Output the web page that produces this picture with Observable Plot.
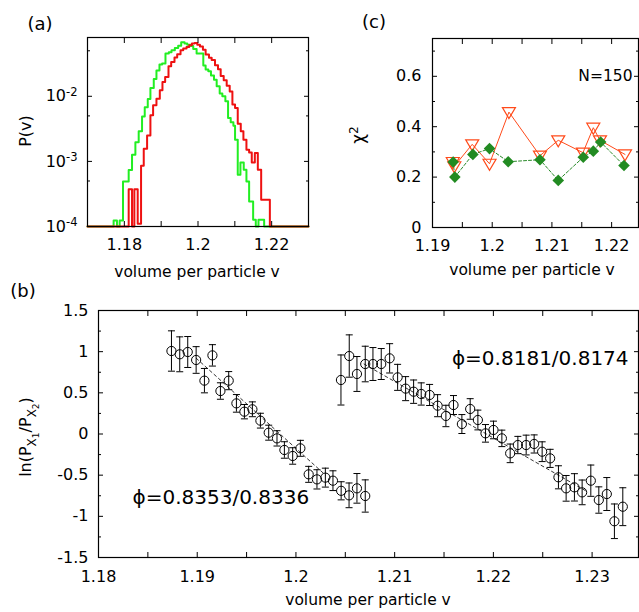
<!DOCTYPE html>
<html><head><meta charset="utf-8">
<script src="https://cdn.jsdelivr.net/npm/d3@7"></script>
<script src="https://cdn.jsdelivr.net/npm/@observablehq/plot@0.6"></script>
<style>
body{margin:0;background:#fff;}
#fig{position:relative;width:639px;height:612px;overflow:hidden;background:#fff;font-family:"DejaVu Sans",sans-serif;}
#fig svg{position:absolute;overflow:visible;}
</style></head><body><div id="fig"></div>
<script>
// ---------- panel (a): histograms P(v) ----------
const aGreenV = [1.17, 1.17709, 1.1780, 1.17873, 1.17964, 1.18118, 1.18209, 1.1830, 1.1839, 1.18481, 1.18554, 1.18636, 1.18708, 1.18799, 1.18872, 1.18954, 1.19026, 1.19117, 1.19208, 1.19281, 1.19371, 1.19462, 1.19544, 1.19635, 1.19708, 1.19798, 1.19871, 1.19962, 1.20053, 1.20144, 1.20207, 1.2028, 1.20352, 1.20434, 1.20507, 1.20589, 1.20661, 1.20743, 1.20816, 1.20888, 1.20961, 1.21006, 1.21079, 1.21152, 1.21242, 1.21315, 1.21388, 1.21497, 1.21569, 1.21642, 1.21796, 1.23];
const aGreenP = [1e-4, 1.24e-4, 1e-4, 1.24e-4, 4.9e-4, 7.4e-4, 1.27e-3, 1.96e-3, 2.9e-3, 4.9e-3, 6.8e-3, 9.1e-3, 0.0134, 0.0185, 0.0248, 0.0307, 0.0318, 0.0454, 0.0475, 0.051, 0.0554, 0.060, 0.0676, 0.0645, 0.062, 0.059, 0.0535, 0.0454, 0.0454, 0.0296, 0.0257, 0.0243, 0.0208, 0.018, 0.01425, 0.011, 0.01, 0.00838, 0.00465, 0.00398, 0.00354, 0.00215, 6.24e-4, 9.66e-4, 7.45e-4, 4.92e-4, 2.43e-4, 1.27e-4, 1e-4, 1.27e-4, 1e-4, 1e-4];
const aRedV = [1.17, 1.18118, 1.18209, 1.18272, 1.18363, 1.18454, 1.18527, 1.18618, 1.18708, 1.18781, 1.18872, 1.18963, 1.19035, 1.19108, 1.19199, 1.19272, 1.19362, 1.19435, 1.19526, 1.19599, 1.19689, 1.19762, 1.19835, 1.19907, 1.1998, 1.20053, 1.20134, 1.20207, 1.20298, 1.20371, 1.20461, 1.20543, 1.20616, 1.20698, 1.20779, 1.20861, 1.20934, 1.21006, 1.21079, 1.21161, 1.21233, 1.21315, 1.21388, 1.2146, 1.21543, 1.21624, 1.21715, 1.21951, 1.23];
const aRedP = [1e-4, 3.75e-4, 1e-4, 3.75e-4, 1.1e-4, 8.6e-4, 1.57e-3, 2.51e-3, 5.1e-3, 7.3e-3, 9.2e-3, 0.0124, 0.0166, 0.0198, 0.0289, 0.0337, 0.0393, 0.0443, 0.051, 0.0541, 0.0574, 0.0609, 0.0646, 0.0661, 0.062, 0.058, 0.052, 0.044, 0.039, 0.036, 0.030, 0.026, 0.0205, 0.0176, 0.0145, 0.0118, 7.45e-3, 6.6e-3, 3.8e-3, 2.9e-3, 2.15e-3, 1.51e-3, 1.37e-3, 9.66e-4, 1.34e-3, 7.45e-4, 2.57e-4, 1e-4, 1e-4];
const aXTicks = [1.17, 1.18, 1.19, 1.2, 1.21, 1.22, 1.23];
const aXLabels = [1.18, 1.2, 1.22];
const aYMajor = [1e-4, 1e-3, 1e-2];
const aYMinor = [5e-4, 5e-3, 5e-2];

// ---------- panel (b): ln(P_X1/P_X2) ----------
const b1V = [1.18739, 1.18823, 1.18904, 1.18989, 1.19073, 1.19154, 1.19235, 1.19319, 1.19397, 1.19478, 1.19559, 1.1964, 1.19724, 1.19808, 1.19883, 1.19967, 1.20045, 1.20129, 1.20213, 1.20298, 1.20375, 1.20458, 1.20538, 1.20618, 1.20702];
const b1Y = [1.008, 0.968, 0.996, 0.899, 0.648, 0.955, 0.522, 0.648, 0.372, 0.271, 0.30, 0.162, 0.016, -0.053, -0.194, -0.267, -0.174, -0.49, -0.551, -0.53, -0.567, -0.69, -0.745, -0.66, -0.753];
const b1E = [0.245, 0.212, 0.188, 0.162, 0.148, 0.13, 0.10, 0.11, 0.107, 0.087, 0.09, 0.09, 0.091, 0.093, 0.10, 0.10, 0.097, 0.097, 0.117, 0.115, 0.12, 0.11, 0.15, 0.18, 0.196];
const b2V = [1.20456, 1.2054, 1.20618, 1.20702, 1.2078, 1.20864, 1.20949, 1.2103, 1.21111, 1.21192, 1.21269, 1.21354, 1.21435, 1.21519, 1.21596, 1.21681, 1.21765, 1.21843, 1.2192, 1.22001, 1.22086, 1.2217, 1.22248, 1.22332, 1.22413, 1.22494, 1.22575, 1.22659, 1.22737, 1.22821, 1.22899, 1.22987, 1.23068, 1.23149, 1.23226, 1.23311];
const b2Y = [0.656, 0.947, 0.729, 0.85, 0.85, 0.85, 0.919, 0.688, 0.551, 0.514, 0.486, 0.474, 0.344, 0.219, 0.352, 0.121, 0.304, 0.17, 0.008, 0.049, -0.053, -0.235, -0.134, -0.134, -0.121, -0.215, -0.296, -0.526, -0.66, -0.648, -0.709, -0.567, -0.802, -0.729, -1.06, -0.883];
const b2E = [0.304, 0.257, 0.212, 0.216, 0.2, 0.188, 0.178, 0.158, 0.146, 0.142, 0.135, 0.128, 0.134, 0.13, 0.115, 0.115, 0.125, 0.12, 0.107, 0.107, 0.10, 0.113, 0.105, 0.12, 0.11, 0.12, 0.11, 0.14, 0.156, 0.166, 0.15, 0.19, 0.16, 0.2, 0.21, 0.23];
const fit1V = [1.1899, 1.2030];
const fit1Y = [0.92, -0.50];
const fit2V = [1.2069, 1.2295];
const fit2Y = [0.85, -0.70];
const bNotes = ["ϕ=0.8353/0.8336", "ϕ=0.8181/0.8174"];
const bNoteV = [1.18344, 1.2158];
const bNoteY = [-0.777, 0.919];
const bXTicks = [1.18, 1.185, 1.19, 1.195, 1.2, 1.205, 1.21, 1.215, 1.22, 1.225, 1.23];
const bXLabels = [1.18, 1.19, 1.2, 1.21, 1.22, 1.23];
const bYMajor = [-1.5, -1, -0.5, 0, 0.5, 1, 1.5];
const bYMinor = [-1.25, -0.75, -0.25, 0.25, 0.75, 1.25];

// ---------- panel (c): chi^2 ----------
const cGreenV = [1.19346, 1.19374, 1.19676, 1.19955, 1.20268, 1.2080, 1.21106, 1.21525, 1.21693, 1.21816, 1.22207];
const cGreenY = [0.26, 0.20, 0.29, 0.313, 0.261, 0.269, 0.187, 0.279, 0.303, 0.339, 0.246];
const cOrangeV = [1.19340, 1.19365, 1.19665, 1.19955, 1.2028, 1.2080, 1.21106, 1.2152, 1.21693, 1.21805, 1.22224];
const cOrangeY = [0.26, 0.243, 0.33, 0.253, 0.458, 0.285, 0.346, 0.297, 0.396, 0.346, 0.29];
const cNote = "N=150";
const cNoteV = 1.2235, cNoteY = 0.6;
const cXTicks = [1.19, 1.195, 1.2, 1.205, 1.21, 1.215, 1.22];
const cXLabels = [1.19, 1.2, 1.21, 1.22];
const cYMajor = [0, 0.2, 0.4, 0.6];
const cYMinor = [0.1, 0.3, 0.5, 0.7];

// ---------- helpers ----------
const FONT = "DejaVu Sans";
const baseStyle = {fontFamily: FONT, fontSize: "16px", background: "transparent", overflow: "visible", color: "#000"};
const str = d => String(d);
function tickMarks(axis, anchor, values, size) {
  const f = axis === "x" ? Plot.axisX : Plot.axisY;
  return f(values, {anchor, tickSize: -size, fill: "none", label: null, stroke: "#000", strokeWidth: 1});
}
function labelMarks(axis, anchor, values, pad, fmt, fontSize = 16) {
  const f = axis === "x" ? Plot.axisX : Plot.axisY;
  return f(values, {anchor, tickSize: 0, tickPadding: pad, tickFormat: fmt, label: null, fontSize, fill: "#000"});
}
function place(svg, left, top) {
  svg.style.position = "absolute";
  svg.style.left = left + "px";
  svg.style.top = top + "px";
  document.getElementById("fig").appendChild(svg);
  return d3.select(svg);
}
function addText(sel, x, y, txt, size, rotate = 0) {
  return sel.append("text")
    .attr("transform", `translate(${x},${y})` + (rotate ? ` rotate(${rotate})` : ""))
    .attr("text-anchor", "middle").attr("dy", "0.35em")
    .attr("font-family", FONT).attr("font-size", size).attr("fill", "#000")
    .text(txt);
}

// ---------- panel (a) ----------
const green = aGreenV.map((v, i) => ({v, p: aGreenP[i]}));
const red = aRedV.map((v, i) => ({v, p: aRedP[i]}));
const plotA = Plot.plot({
  width: 320, height: 260, marginLeft: 87, marginRight: 12, marginTop: 37, marginBottom: 34,
  style: baseStyle,
  x: {domain: [1.17, 1.23]},
  y: {type: "log", domain: [1e-4, 0.08]},
  marks: [
    Plot.line(green, {x: "v", y: "p", curve: "step-after", stroke: "#22ee22", strokeWidth: 2}),
    Plot.line(red, {x: "v", y: "p", curve: "step-after", stroke: "#ee1111", strokeWidth: 2}),
    Plot.frame({stroke: "#000", strokeWidth: 1.2}),
    tickMarks("x", "bottom", aXTicks, 5),
    tickMarks("x", "top", aXTicks, 5),
    tickMarks("y", "left", aYMajor, 5),
    tickMarks("y", "right", aYMajor, 5),
    tickMarks("y", "left", aYMinor, 3),
    tickMarks("y", "right", aYMinor, 3),
    labelMarks("x", "bottom", aXLabels, 12, str),
    labelMarks("y", "left", aYMajor, 10, d => "10^" + Math.round(Math.log10(d)))
  ]
});
const sA = place(plotA, 0, 0);
sA.selectAll("text").each(function () {
  const m = /^10\^(-?\d+)$/.exec(this.textContent);
  if (m) {
    this.textContent = "10";
    d3.select(this).append("tspan").attr("dy", "-0.45em").attr("font-size", "0.72em").text(m[1]);
  }
});
addText(sA, 40, 24, "(a)", 18);
addText(sA, 25, 131, "P(v)", 16, -90);
addText(sA, 197, 272, "volume per particle v", 15.5);

// ---------- panel (c) ----------
const cGreen = cGreenV.map((v, i) => ({v, y: cGreenY[i]}));
const cOrange = cOrangeV.map((v, i) => ({v, y: cOrangeY[i]}));
const triDown = {draw(ctx) { ctx.moveTo(-6.5, -4.5); ctx.lineTo(6.5, -4.5); ctx.lineTo(0, 6.5); ctx.closePath(); }};
const diamond = {draw(ctx) { ctx.moveTo(0, -5.8); ctx.lineTo(5.8, 0); ctx.lineTo(0, 5.8); ctx.lineTo(-5.8, 0); ctx.closePath(); }};
const plotC = Plot.plot({
  width: 319, height: 260, marginLeft: 112, marginRight: 1, marginTop: 38, marginBottom: 33,
  style: baseStyle,
  x: {domain: [1.19, 1.2245]},
  y: {domain: [0, 0.75]},
  marks: [
    Plot.line(cOrange, {x: "v", y: "y", stroke: "#ff4a1a", strokeWidth: 1}),
    Plot.line(cGreen, {x: "v", y: "y", stroke: "#2a8a2a", strokeWidth: 1, strokeDasharray: "3,2"}),
    Plot.dot(cOrange, {x: "v", y: "y", symbol: triDown, stroke: "#ff4a1a", strokeWidth: 1.2, fill: "none"}),
    Plot.dot(cGreen, {x: "v", y: "y", symbol: diamond, fill: "#228b22", stroke: "none"}),
    Plot.text([cNote], {x: () => cNoteV, y: () => cNoteY, text: d => d, textAnchor: "end", fontSize: 15.5, fill: "#000"}),
    Plot.frame({stroke: "#000", strokeWidth: 1.2}),
    tickMarks("x", "bottom", cXTicks, 5),
    tickMarks("x", "top", cXTicks, 5),
    tickMarks("y", "left", cYMajor, 5),
    tickMarks("y", "right", cYMajor, 5),
    tickMarks("y", "left", cYMinor, 3),
    tickMarks("y", "right", cYMinor, 3),
    labelMarks("x", "bottom", cXLabels, 12, str),
    labelMarks("y", "left", cYMajor, 11, str)
  ]
});
const sC = place(plotC, 320, 0);
addText(sC, 54, 22, "(c)", 18);
const chi = addText(sC, 38, 135, "χ", 17, -90);
chi.append("tspan").attr("dy", "-0.45em").attr("font-size", "0.72em").text("2");
addText(sC, 212, 270, "volume per particle v", 15.5);

// ---------- panel (b) ----------
const mk = (V, Y, E) => V.map((v, i) => ({v, y: Y[i], lo: Y[i] - E[i], hi: Y[i] + E[i]}));
const b1 = mk(b1V, b1Y, b1E), b2 = mk(b2V, b2Y, b2E);
const both = b1.concat(b2);
const fit1 = fit1V.map((v, i) => ({v, y: fit1Y[i]}));
const fit2 = fit2V.map((v, i) => ({v, y: fit2Y[i]}));
const notes = bNotes.map((t, i) => ({t, v: bNoteV[i], y: bNoteY[i]}));
const cap = {draw(ctx) { ctx.moveTo(-3.5, 0); ctx.lineTo(3.5, 0); }};
const plotB = Plot.plot({
  width: 639, height: 332, marginLeft: 98, marginRight: 1, marginTop: 30, marginBottom: 55,
  style: baseStyle,
  x: {domain: [1.18, 1.2347]},
  y: {domain: [-1.5, 1.5]},
  marks: [
    Plot.line(fit1, {x: "v", y: "y", stroke: "#000", strokeWidth: 0.8, strokeDasharray: "3,3"}),
    Plot.line(fit2, {x: "v", y: "y", stroke: "#000", strokeWidth: 0.8, strokeDasharray: "3,3"}),
    Plot.ruleX(both, {x: "v", y1: "lo", y2: "hi", stroke: "#000", strokeWidth: 1}),
    Plot.dot(both, {x: "v", y: "lo", symbol: cap, stroke: "#000", strokeWidth: 1}),
    Plot.dot(both, {x: "v", y: "hi", symbol: cap, stroke: "#000", strokeWidth: 1}),
    Plot.dot(both, {x: "v", y: "y", r: 4.6, stroke: "#000", strokeWidth: 1, fill: "none"}),
    Plot.text(notes, {x: "v", y: "y", text: "t", textAnchor: "start", fontSize: 20, fill: "#000"}),
    Plot.frame({stroke: "#000", strokeWidth: 1.2}),
    tickMarks("x", "bottom", bXTicks, 5),
    tickMarks("x", "top", bXTicks, 5),
    tickMarks("y", "left", bYMajor, 5),
    tickMarks("y", "right", bYMajor, 5),
    tickMarks("y", "left", bYMinor, 3),
    tickMarks("y", "right", bYMinor, 3),
    labelMarks("x", "bottom", bXLabels, 13, str),
    labelMarks("y", "left", bYMajor, 10, str)
  ]
});
const sB = place(plotB, 0, 280);
addText(sB, 23, 11, "(b)", 18);
addText(sB, 368, 320, "volume per particle v", 15.5);
const ln = sB.append("text").attr("transform", "translate(25,157) rotate(-90)")
  .attr("text-anchor", "middle").attr("dy", "0.35em")
  .attr("font-family", FONT).attr("font-size", 16).attr("fill", "#000");
ln.append("tspan").text("ln(P");
ln.append("tspan").attr("dy", 5).attr("font-size", 12).text("X");
ln.append("tspan").attr("dy", 3).attr("font-size", 9).text("1");
ln.append("tspan").attr("dy", -8).attr("font-size", 16).text("/P");
ln.append("tspan").attr("dy", 5).attr("font-size", 12).text("X");
ln.append("tspan").attr("dy", 3).attr("font-size", 9).text("2");
ln.append("tspan").attr("dy", -8).attr("font-size", 16).text(")");
</script></body></html>
